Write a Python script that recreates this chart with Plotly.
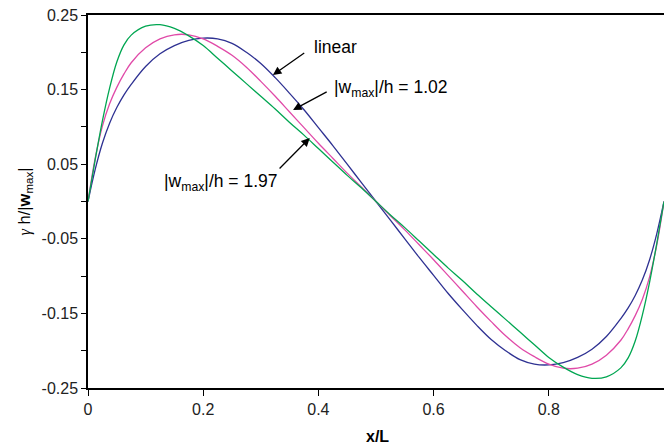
import plotly.graph_objects as go

# x/L sample positions
x_vals = [0, 0.0125, 0.025, 0.0375, 0.05, 0.0625, 0.075, 0.1, 0.125, 0.15, 0.175, 0.2,
          0.225, 0.25, 0.275, 0.3, 0.325, 0.35, 0.375, 0.4, 0.425, 0.45, 0.475, 0.5,
          0.525, 0.55, 0.575, 0.6, 0.625, 0.65, 0.675, 0.7, 0.725, 0.75, 0.775, 0.8,
          0.825, 0.85, 0.875, 0.9, 0.925, 0.9375, 0.95, 0.9625, 0.975, 0.9875, 1.0]

# linear
y_linear = [0, 0.043, 0.078, 0.105, 0.126, 0.143, 0.157, 0.181, 0.198, 0.209, 0.216, 0.219,
            0.218, 0.212, 0.200, 0.185, 0.166, 0.145, 0.123, 0.099, 0.075, 0.050, 0.025, 0.0,
            -0.025, -0.050, -0.075, -0.099, -0.123, -0.145, -0.166, -0.185, -0.200, -0.212, -0.218, -0.219,
            -0.216, -0.209, -0.198, -0.181, -0.157, -0.143, -0.126, -0.105, -0.078, -0.043, 0.0]

# |w_max|/h = 1.02
y_102 = [0, 0.058, 0.101, 0.131, 0.153, 0.171, 0.186, 0.206, 0.218, 0.2235, 0.2235, 0.218,
         0.208, 0.196, 0.180, 0.161, 0.141, 0.120, 0.099, 0.078, 0.058, 0.038, 0.019, 0.0,
         -0.019, -0.038, -0.058, -0.078, -0.099, -0.120, -0.141, -0.161, -0.180, -0.196, -0.208, -0.218,
         -0.2235, -0.2235, -0.218, -0.206, -0.186, -0.171, -0.153, -0.131, -0.101, -0.058, 0.0]

# |w_max|/h = 1.97
y_197 = [0, 0.056, 0.108, 0.152, 0.187, 0.210, 0.223, 0.235, 0.237, 0.232, 0.222, 0.209,
         0.192, 0.175, 0.158, 0.141, 0.124, 0.106, 0.089, 0.071, 0.053, 0.035, 0.018, 0.0,
         -0.018, -0.035, -0.053, -0.071, -0.089, -0.106, -0.124, -0.141, -0.158, -0.175, -0.192, -0.209,
         -0.222, -0.232, -0.237, -0.235, -0.223, -0.210, -0.187, -0.152, -0.108, -0.056, 0.0]

y_ticks = [-0.25, -0.2, -0.15, -0.1, -0.05, 0, 0.05, 0.1, 0.15, 0.2, 0.25]
y_ticktext = ["-0.25", "", "-0.15", "", "-0.05", "", "0.05", "", "0.15", "", "0.25"]
x_ticks = [0, 0.2, 0.4, 0.6, 0.8, 1.0]
x_ticktext = ["0", "0.2", "0.4", "0.6", "0.8", "1"]

FONT = "Liberation Sans, Arial, sans-serif"

fig = go.Figure()
fig.add_trace(go.Scatter(x=x_vals, y=y_linear, mode="lines",
                         line=dict(color="#2e3192", width=1.3, shape="spline", smoothing=1.0)))
fig.add_trace(go.Scatter(x=x_vals, y=y_102, mode="lines",
                         line=dict(color="#e04aa8", width=1.3, shape="spline", smoothing=1.0)))
fig.add_trace(go.Scatter(x=x_vals, y=y_197, mode="lines",
                         line=dict(color="#00a651", width=1.3, shape="spline", smoothing=1.0)))

arrows = [
    (0.321, 0.1696, 0.378, 0.2004),
    (0.356, 0.1227, 0.417, 0.148),
    (0.385, 0.0851, 0.330, 0.0422),
]
annos = []
for hx, hy, tx, ty in arrows:
    annos.append(dict(x=hx, y=hy, ax=tx, ay=ty, axref="x", ayref="y", xref="x", yref="y",
                      text="", showarrow=True, arrowhead=2, arrowsize=1.3, arrowwidth=1.3,
                      arrowcolor="black"))

annos.append(dict(x=0.389, y=0.207, xref="x", yref="y", text="linear", showarrow=False,
                  xanchor="left", yanchor="middle", font=dict(size=17.5, color="black", family=FONT)))
annos.append(dict(x=0.4236, y=0.152, xref="x", yref="y", text="|w<sub>max</sub>|/h = 1.02",
                  showarrow=False, xanchor="left", yanchor="middle",
                  font=dict(size=17.5, color="black", family=FONT)))
annos.append(dict(x=0.1285, y=0.026, xref="x", yref="y", text="|w<sub>max</sub>|/h = 1.97",
                  showarrow=False, xanchor="left", yanchor="middle",
                  font=dict(size=17.5, color="black", family=FONT)))
# axis titles
annos.append(dict(x=0.503, y=-0.131, xref="paper", yref="paper", text="<b>x/L</b>", showarrow=False,
                  xanchor="center", yanchor="middle", font=dict(size=16, color="black", family=FONT)))
annos.append(dict(x=-0.111, y=0.5, xref="paper", yref="paper",
                  text='<span style="font-family:Liberation Serif;font-style:italic">γ</span> h/|<b>w</b><sub>max</sub>|',
                  showarrow=False, textangle=-90, xanchor="center", yanchor="middle",
                  font=dict(size=16.5, color="black", family=FONT)))

fig.update_layout(
    width=664, height=448,
    margin=dict(l=88, r=0, t=15, b=60),
    paper_bgcolor="white", plot_bgcolor="white",
    showlegend=False,
    font=dict(family=FONT, size=16, color="black"),
    annotations=annos,
    xaxis=dict(range=[0, 1], tickvals=x_ticks, ticktext=x_ticktext, ticks="outside",
               ticklen=6, tickwidth=1.2, tickcolor="black", showline=True, linecolor="black",
               linewidth=1.5, mirror=True, showgrid=False, zeroline=False,
               tickfont=dict(size=16, color="#222")),
    yaxis=dict(range=[-0.25, 0.25], tickvals=y_ticks, ticktext=y_ticktext, ticks="outside",
               ticklen=5, tickwidth=1.2, tickcolor="black", showline=True, linecolor="black",
               linewidth=1.5, showgrid=False, zeroline=False,
               tickfont=dict(size=16, color="#222")),
)

fig.write_html("out.html")
